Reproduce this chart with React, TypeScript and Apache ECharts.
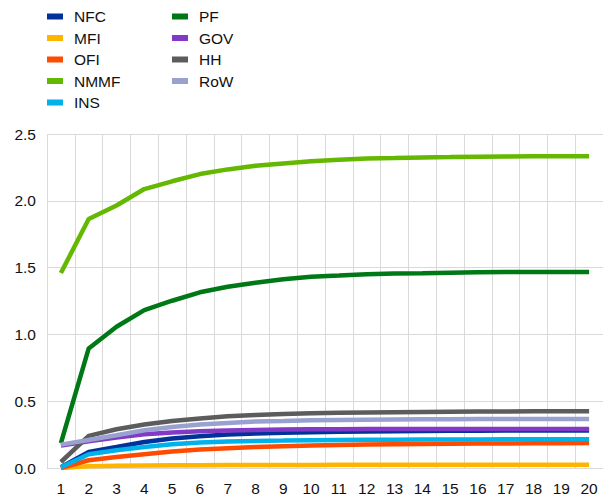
import React, { useEffect, useRef } from "react";
import * as echarts from "echarts";

const categories = ["1","2","3","4","5","6","7","8","9","10","11","12","13","14","15","16","17","18","19","20"];
const seriesNames = ["NFC", "MFI", "OFI", "NMMF", "INS", "PF", "GOV", "HH", "RoW"];
const colors = ["#003299", "#FFB400", "#FF4B00", "#65B800", "#00B1EA", "#007816", "#8139C6", "#5C5C5C", "#98A1D0"];

const NFC = [0.005, 0.12, 0.157, 0.195, 0.22, 0.238, 0.25, 0.258, 0.263, 0.268, 0.271, 0.274, 0.276, 0.277, 0.278, 0.279, 0.28, 0.28, 0.281, 0.281];
const MFI = [0.0, 0.013, 0.017, 0.019, 0.02, 0.021, 0.022, 0.022, 0.023, 0.023, 0.024, 0.024, 0.024, 0.024, 0.025, 0.025, 0.025, 0.025, 0.025, 0.025];
const OFI = [0.0, 0.058, 0.083, 0.103, 0.123, 0.138, 0.148, 0.157, 0.163, 0.168, 0.172, 0.175, 0.178, 0.18, 0.182, 0.183, 0.184, 0.185, 0.186, 0.187];
const NMMF = [1.46, 1.864, 1.965, 2.088, 2.146, 2.2, 2.235, 2.263, 2.28, 2.296, 2.308, 2.316, 2.32, 2.325, 2.327, 2.33, 2.332, 2.333, 2.334, 2.334];
const INS = [0.005, 0.103, 0.133, 0.157, 0.178, 0.19, 0.198, 0.203, 0.205, 0.208, 0.21, 0.211, 0.212, 0.213, 0.214, 0.214, 0.215, 0.215, 0.215, 0.215];
const PF = [0.187, 0.895, 1.057, 1.182, 1.252, 1.315, 1.357, 1.387, 1.412, 1.432, 1.44, 1.45, 1.455, 1.458, 1.462, 1.465, 1.467, 1.467, 1.468, 1.468];
const GOV = [0.168, 0.2, 0.228, 0.253, 0.265, 0.275, 0.28, 0.285, 0.288, 0.29, 0.29, 0.291, 0.291, 0.292, 0.292, 0.292, 0.292, 0.292, 0.292, 0.292];
const HH = [0.045, 0.24, 0.29, 0.325, 0.352, 0.37, 0.387, 0.397, 0.405, 0.41, 0.413, 0.416, 0.418, 0.42, 0.421, 0.422, 0.423, 0.424, 0.425, 0.425];
const RoW = [0.175, 0.21, 0.245, 0.283, 0.307, 0.325, 0.337, 0.348, 0.352, 0.357, 0.359, 0.361, 0.363, 0.364, 0.365, 0.366, 0.367, 0.367, 0.367, 0.367];

const allData = [NFC, MFI, OFI, NMMF, INS, PF, GOV, HH, RoW];
const legendCol1 = ["NFC", "MFI", "OFI", "NMMF", "INS"];
const legendCol2 = ["PF", "GOV", "HH", "RoW"];

const FONT = "'Liberation Sans', Arial, sans-serif";

export default function App() {
  const ref = useRef<HTMLDivElement>(null);
  useEffect(() => {
    if (!ref.current) return;
    const chart = echarts.init(ref.current, undefined, { renderer: "svg" });
    const legendBase = {
      orient: "vertical" as const,
      top: 8.5,
      itemWidth: 16,
      itemHeight: 6,
      itemGap: 5.5,
      icon: "rect",
      padding: 0,
      textStyle: { fontFamily: FONT, fontSize: 15.5, color: "#111", lineHeight: 16, padding: [0, 0, 0, 6] },
    };
    chart.setOption({
      animation: false,
      backgroundColor: "#fff",
      legend: [
        { ...legendBase, left: 47, data: legendCol1 },
        { ...legendBase, left: 172, data: legendCol2 },
      ],
      grid: { left: 47, top: 134, width: 560, height: 334, containLabel: false },
      xAxis: {
        type: "category",
        data: categories,
        boundaryGap: true,
        axisLine: { show: true, lineStyle: { color: "#d9d9d9", width: 1 } },
        axisTick: { show: false },
        splitLine: { show: true, interval: 0, lineStyle: { color: "#d9d9d9", width: 1 } },
        axisLabel: { interval: 0, margin: 12, fontFamily: FONT, fontSize: 15.5, color: "#111" },
      },
      yAxis: {
        type: "value",
        min: 0,
        max: 2.5,
        interval: 0.5,
        axisLine: { show: false },
        axisTick: { show: false },
        splitLine: { show: true, lineStyle: { color: "#d9d9d9", width: 1 } },
        axisLabel: {
          margin: 11,
          fontFamily: FONT,
          fontSize: 15.5,
          color: "#111",
          formatter: (v: number) => v.toFixed(1),
        },
      },
      series: seriesNames.map((name, i) => ({
        name,
        type: "line",
        data: allData[i],
        color: colors[i],
        showSymbol: false,
        symbol: "none",
        lineStyle: { width: 4.5, color: colors[i] },
        itemStyle: { color: colors[i] },
      })),
    });
    return () => chart.dispose();
  }, []);
  return (
    <div
      ref={ref}
      style={{ position: "fixed", left: 0, top: 0, width: 603, height: 498, background: "#fff" }}
    />
  );
}
